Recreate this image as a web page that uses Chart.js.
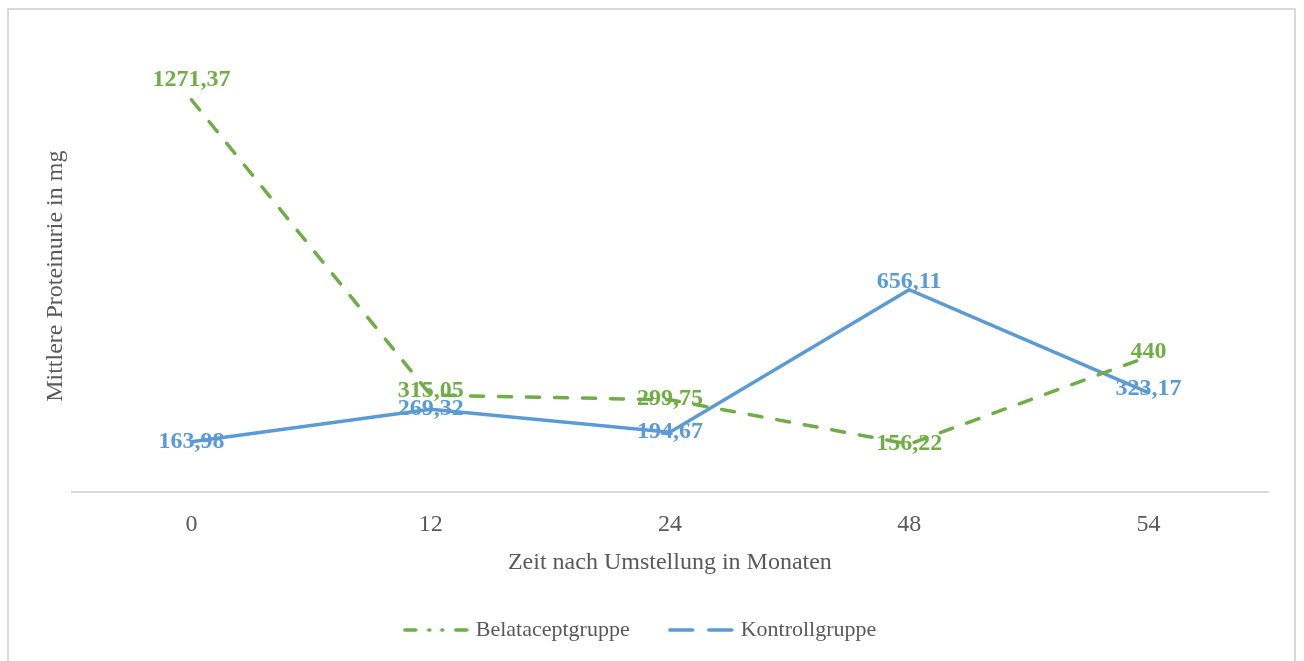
<!DOCTYPE html>
<html>
<head>
<meta charset="utf-8">
<script src="https://cdn.jsdelivr.net/npm/chart.js@4.4.0/dist/chart.umd.min.js"></script>
<style>
  html, body { margin: 0; padding: 0; background: #fff; overflow: hidden; }
  #wrap { position: relative; width: 1304px; height: 661px; }
  #frame { position: absolute; left: 7px; top: 8px; width: 1289px; height: 700px; border: 2px solid #d9d9d9; box-sizing: border-box; pointer-events: none; }
</style>
</head>
<body>
<div id="wrap">
  <canvas id="myChart" width="1304" height="661"></canvas>
  <div id="frame"></div>
</div>
<script>
// data
const months = ["0", "12", "24", "48", "54"];
const belatacept = [1271.37, 315.05, 299.75, 156.22, 440];
const kontroll = [163.98, 269.32, 194.67, 656.11, 323.17];
const seriesNames = ["Belataceptgruppe", "Kontrollgruppe"];

const green = "#70AD47";
const blue = "#5B9BD5";
const grey = "#595959";
const serif = "'Liberation Serif', 'Times New Roman', serif";

// legend samples like the excel ones
function legendSample(color, dashed) {
    const c = document.createElement("canvas");
    c.width = 66; c.height = 8;
    const g = c.getContext("2d");
    g.strokeStyle = color;
    g.lineWidth = 3.5;
    g.lineCap = "round";
    const segs = dashed ? [[2, 13], [26, 27], [39, 40], [53, 64]] : [[2, 25], [41, 64]];
    segs.forEach(s => {
        g.beginPath();
        g.moveTo(s[0], 4);
        g.lineTo(s[1], 4);
        g.stroke();
    });
    return c;
}

function fmt(v) {
    return String(v).replace(".", ",");
}

// value labels, drawn under the lines
const valueLabels = {
    id: "valueLabels",
    beforeDatasetsDraw(chart) {
        const ctx = chart.ctx;
        ctx.save();
        ctx.font = "bold 24px " + serif;
        ctx.textAlign = "center";
        ctx.textBaseline = "middle";
        chart.data.datasets.forEach((ds, i) => {
            const meta = chart.getDatasetMeta(i);
            ctx.fillStyle = ds.borderColor;
            meta.data.forEach((pt, j) => {
                const lift = ds.labelLift ? ds.labelLift[j] : 0;
                ctx.fillText(fmt(ds.data[j]), pt.x, pt.y + lift);
            });
        });
        ctx.restore();
    }
};

const shiftLegend = {
    id: "shiftLegend",
    afterLayout(chart) {
        chart.legend.left -= 13;
        chart.legend.right -= 13;
    }
};

window.myChart = new Chart("myChart", {
    type: "line",
    data: {
        labels: months,
        datasets: [{
            label: seriesNames[0],
            data: belatacept,
            borderColor: green,
            backgroundColor: green,
            borderWidth: 3.5,
            borderDash: [13, 15],
            borderCapStyle: "round",
            pointRadius: 0,
            tension: 0,
            fill: false,
            clip: false,
            labelLift: [-20, -4, -1, 0, -5]
        }, {
            label: seriesNames[1],
            data: kontroll,
            borderColor: blue,
            backgroundColor: blue,
            borderWidth: 3.5,
            borderCapStyle: "round",
            pointRadius: 0,
            tension: 0,
            fill: false,
            clip: false,
            labelLift: [0, 0, 0, -8, -4]
        }]
    },
    options: {
        responsive: false,
        animation: false,
        layout: { padding: { left: 41, right: 36, top: 60, bottom: 10 } },
        scales: {
            x: {
                offset: true,
                grid: { display: false, drawTicks: false },
                border: { display: true, color: "#d9d9d9", width: 2 },
                ticks: { color: grey, font: { family: serif, size: 24 }, padding: 18 },
                title: {
                    display: true,
                    text: "Zeit nach Umstellung in Monaten",
                    color: grey,
                    font: { family: serif, size: 24 },
                    padding: { top: -9, bottom: 0 }
                }
            },
            y: {
                min: 0,
                max: 1400,
                grid: { display: false, drawTicks: false },
                border: { display: false },
                ticks: { display: false },
                title: {
                    display: true,
                    text: "Mittlere Proteinurie in mg",
                    color: grey,
                    font: { family: serif, size: 24 },
                    padding: { top: 0, bottom: 2 }
                }
            }
        },
        plugins: {
            legend: {
                position: "bottom",
                labels: {
                    usePointStyle: true,
                    pointStyleWidth: 58,
                    padding: 42,
                    color: grey,
                    font: { family: serif, size: 22 },
                    generateLabels(chart) {
                        return chart.data.datasets.map((ds, i) => ({
                            text: ds.label,
                            fontColor: grey,
                            pointStyle: legendSample(ds.borderColor, i === 0),
                            datasetIndex: i,
                            hidden: false,
                            lineWidth: 0
                        }));
                    }
                }
            },
            tooltip: { enabled: false }
        }
    },
    plugins: [valueLabels, shiftLegend]
});
</script>
</body>
</html>
